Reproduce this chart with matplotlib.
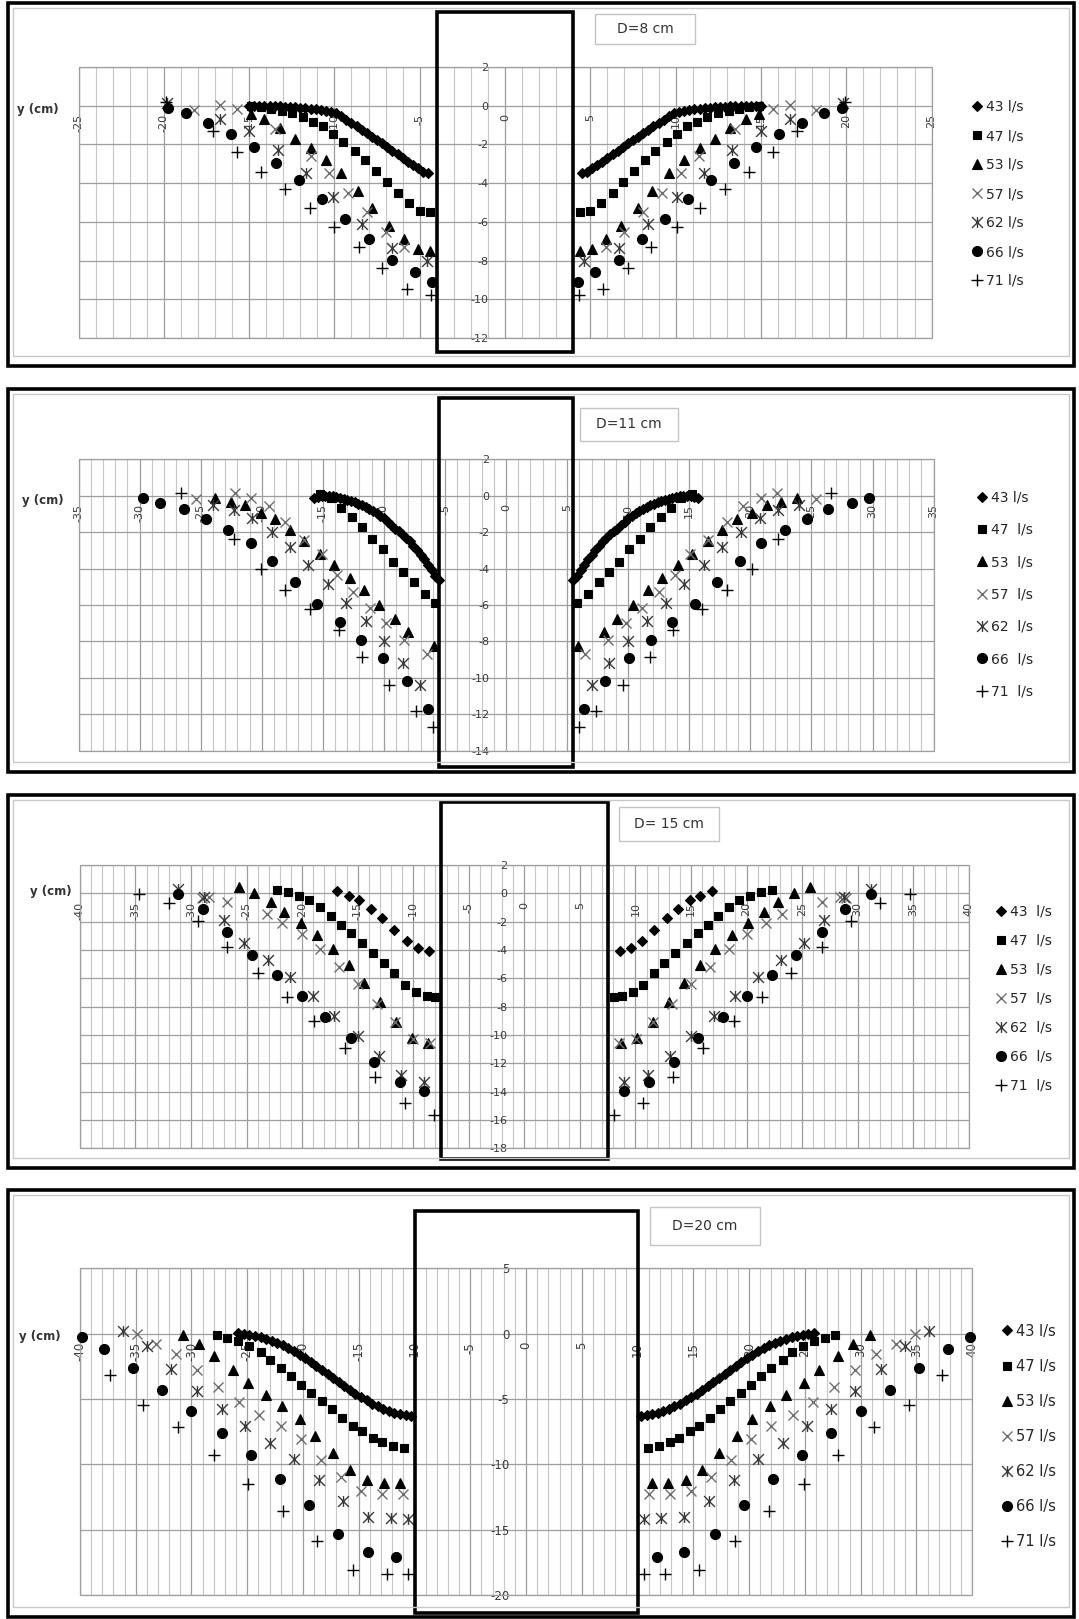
import numpy as np
import matplotlib
matplotlib.use('Agg')
import matplotlib.pyplot as plt
from matplotlib.patches import Rectangle
from matplotlib.path import Path
from matplotlib.ticker import MultipleLocator

plt.rcParams['font.family'] = 'DejaVu Sans'
plt.rcParams['axes.unicode_minus'] = False

W, H = 1079, 1619

# scour profiles, upstream half (x < 0); the downstream half is its mirror image
# D = 8 cm
d8_x43 = [-4.5, -4.8, -5.1, -5.4, -5.7, -6.0, -6.3, -6.6, -6.9, -7.2, -7.5, -7.8, -8.1, -8.4, -8.7, -9.0, -9.3, -9.6,
          -9.9, -10.2, -10.5, -10.8, -11.1, -11.4, -11.7, -12.0, -12.3, -12.6, -12.9, -13.2, -13.5, -13.8, -14.1, -14.4, -14.7, -15.0]
d8_y43 = [-3.5, -3.4, -3.2, -3.05, -2.9, -2.7, -2.5, -2.35, -2.15, -1.95, -1.75, -1.6, -1.4, -1.25, -1.05, -0.9, -0.75, -0.55,
          -0.4, -0.3, -0.25, -0.2, -0.17, -0.15, -0.12, -0.1, -0.08, -0.06, -0.05, -0.04, -0.03, -0.02, -0.01, 0.0, 0.0, 0.0]
d8_x47 = [-4.4, -5.0, -5.65, -6.3, -6.9, -7.55, -8.2, -8.8, -9.5, -10.1, -10.65, -11.25, -11.85, -12.5, -13.1, -13.7, -14.3, -14.9]
d8_y47 = [-5.5, -5.45, -5.05, -4.5, -3.95, -3.35, -2.8, -2.35, -1.9, -1.45, -1.07, -0.84, -0.6, -0.4, -0.25, -0.15, -0.08, 0.0]
d8_x53 = [-4.4, -5.1, -5.9, -6.8, -7.8, -8.6, -9.6, -10.5, -11.4, -12.3, -13.2, -14.1, -14.9]
d8_y53 = [-7.5, -7.4, -6.9, -6.2, -5.3, -4.4, -3.5, -2.8, -2.2, -1.7, -1.15, -0.67, -0.45]
d8_x57 = [-5.9, -7.0, -8.1, -9.2, -10.3, -11.35, -13.5, -15.7, -16.7, -18.25]
d8_y57 = [-7.3, -6.5, -5.5, -4.5, -3.5, -2.6, -1.2, -0.15, 0.05, -0.2]
d8_x62 = [-4.6, -6.65, -8.4, -10.1, -11.65, -13.3, -15.0, -16.7, -19.8]
d8_y62 = [-8.0, -7.35, -6.1, -4.7, -3.5, -2.3, -1.3, -0.67, 0.15]
d8_x66 = [-4.3, -5.3, -6.65, -8.0, -9.4, -10.75, -12.05, -13.4, -14.7, -16.05, -17.4, -18.7, -19.75]
d8_y66 = [-9.1, -8.6, -7.95, -6.9, -5.85, -4.8, -3.85, -2.95, -2.15, -1.45, -0.9, -0.4, -0.1]
d8_x71 = [-4.35, -5.75, -7.2, -8.55, -10.05, -11.45, -12.9, -14.3, -15.7, -17.1, -19.9]
d8_y71 = [-9.8, -9.45, -8.4, -7.3, -6.25, -5.3, -4.3, -3.4, -2.4, -1.3, 0.2]

# D = 11 cm
d11_x43 = [-5.5, -5.8, -6.1, -6.4, -6.7, -7.0, -7.3, -7.6, -7.9, -8.2, -8.5, -8.8, -9.1, -9.4, -9.7, -10.0, -10.3, -10.6,
           -10.9, -11.2, -11.5, -11.8, -12.1, -12.4, -12.7, -13.0, -13.3, -13.6, -13.9, -14.2, -14.5, -14.8, -15.1, -15.4, -15.7]
d11_y43 = [-4.65, -4.4, -4.1, -3.8, -3.5, -3.25, -3.0, -2.75, -2.5, -2.3, -2.1, -1.95, -1.8, -1.6, -1.45, -1.25, -1.1, -0.95,
           -0.83, -0.72, -0.62, -0.53, -0.45, -0.37, -0.3, -0.24, -0.18, -0.13, -0.08, -0.04, -0.01, 0.0, 0.0, -0.05, -0.1]
d11_x47 = [-5.8, -6.67, -7.57, -8.4, -9.27, -10.1, -10.95, -11.8, -12.65, -13.5, -14.35, -15.2]
d11_y47 = [-5.9, -5.4, -4.75, -4.2, -3.63, -2.95, -2.35, -1.7, -1.15, -0.7, -0.15, 0.1]
d11_x53 = [-5.9, -8.0, -9.1, -10.4, -11.6, -12.8, -14.1, -15.2, -16.5, -17.65, -18.9, -20.1, -21.4, -22.5, -23.8]
d11_y53 = [-8.25, -7.5, -6.75, -6.0, -5.2, -4.5, -3.8, -3.2, -2.5, -1.9, -1.3, -0.93, -0.5, -0.33, -0.1]
d11_x57 = [-6.5, -8.36, -9.8, -11.1, -12.5, -13.85, -15.05, -16.5, -18.1, -19.4, -20.9, -22.2, -25.4]
d11_y57 = [-8.7, -7.9, -7.0, -6.15, -5.3, -4.35, -3.2, -2.45, -1.43, -0.57, -0.1, 0.13, -0.2]
d11_x62 = [-7.06, -8.4, -10.0, -11.5, -13.1, -14.6, -16.2, -17.7, -19.2, -20.8, -22.3, -24.0]
d11_y62 = [-10.4, -9.2, -8.0, -6.9, -5.9, -4.85, -3.8, -2.8, -2.0, -1.25, -0.8, -0.5]
d11_x66 = [-6.35, -8.1, -10.05, -11.9, -13.6, -15.5, -17.3, -19.15, -20.9, -22.8, -24.6, -26.35, -28.3, -29.7]
d11_y66 = [-11.7, -10.2, -8.9, -7.9, -6.96, -5.97, -4.76, -3.6, -2.6, -1.9, -1.3, -0.75, -0.42, -0.15]
d11_x71 = [-6.0, -7.4, -9.55, -11.8, -13.7, -16.05, -18.1, -20.1, -22.3, -26.6]
d11_y71 = [-12.7, -11.8, -10.4, -8.85, -7.4, -6.2, -5.2, -4.0, -2.35, 0.13]

# D = 15 cm
d15_x43 = [-8.6, -9.6, -10.6, -11.7, -12.8, -13.8, -14.9, -15.8, -16.9]
d15_y43 = [-4.1, -3.85, -3.35, -2.6, -1.75, -1.1, -0.47, -0.2, 0.16]
d15_x47 = [-8.05, -8.8, -9.75, -10.7, -11.7, -12.6, -13.6, -14.6, -15.6, -16.5, -17.4, -18.4, -19.35, -20.3, -21.3, -22.3]
d15_y47 = [-7.35, -7.25, -6.95, -6.5, -5.65, -4.95, -4.2, -3.5, -2.8, -2.23, -1.6, -0.94, -0.47, -0.2, 0.1, 0.23]
d15_x53 = [-8.7, -10.1, -11.55, -13.0, -14.4, -15.8, -17.2, -18.7, -20.1, -21.6, -22.8, -24.3, -25.7]
d15_y53 = [-10.55, -10.2, -9.05, -7.7, -6.3, -5.05, -3.95, -2.95, -2.1, -1.3, -0.6, 0.0, 0.42]
d15_x57 = [-8.5, -10.06, -11.6, -13.3, -15.0, -16.7, -18.4, -20.0, -21.8, -23.2, -26.8, -28.4, -29.0]
d15_y57 = [-10.6, -10.25, -9.1, -7.8, -6.4, -5.2, -3.9, -2.87, -2.07, -1.46, -0.6, -0.24, -0.3]
d15_x62 = [-9.0, -11.1, -13.1, -15.0, -17.1, -19.0, -21.05, -23.1, -25.2, -27.0, -28.8, -31.2]
d15_y62 = [-13.3, -12.8, -11.5, -10.1, -8.65, -7.25, -5.9, -4.7, -3.5, -1.9, -0.28, 0.28]
d15_x66 = [-9.0, -11.2, -13.5, -15.6, -17.9, -20.0, -22.3, -24.5, -26.8, -28.9, -31.2]
d15_y66 = [-13.95, -13.3, -11.9, -10.2, -8.7, -7.25, -5.8, -4.35, -2.7, -1.13, -0.05]
d15_x71 = [-8.1, -10.7, -13.4, -16.1, -18.9, -21.4, -24.0, -26.8, -29.4, -32.0, -34.7]
d15_y71 = [-15.65, -14.8, -13.0, -10.9, -9.0, -7.3, -5.65, -3.76, -1.93, -0.7, -0.07]

# D = 20 cm
d20_x43 = [-10.3, -10.8, -11.3, -11.8, -12.3, -12.8, -13.3, -13.8, -14.3, -14.8, -15.3, -15.8, -16.3, -16.8, -17.3, -17.8,
           -18.3, -18.8, -19.3, -19.8, -20.3, -20.8, -21.3, -21.8, -22.3, -22.8, -23.3, -23.8, -24.3, -24.8, -25.3, -25.8]
d20_y43 = [-6.3, -6.25, -6.15, -6.05, -5.9, -5.75, -5.55, -5.35, -5.1, -4.85, -4.6, -4.3, -4.0, -3.7, -3.4, -3.1,
           -2.8, -2.5, -2.2, -1.9, -1.6, -1.35, -1.1, -0.9, -0.7, -0.55, -0.4, -0.28, -0.18, -0.1, -0.03, 0.05]
d20_x47 = [-10.9, -11.9, -12.9, -13.75, -14.7, -15.5, -16.5, -17.4, -18.3, -19.3, -20.2, -21.1, -22.0, -23.0, -23.8, -24.8,
           -25.8, -26.8, -27.7]
d20_y47 = [-8.75, -8.57, -8.3, -8.0, -7.47, -7.04, -6.45, -5.8, -5.18, -4.54, -3.9, -3.27, -2.63, -2.0, -1.43, -0.97,
           -0.54, -0.33, -0.08]
d20_x53 = [-11.3, -12.7, -14.3, -15.8, -17.3, -18.9, -20.3, -21.9, -23.3, -24.9, -26.3, -28.0, -29.3, -30.8]
d20_y53 = [-11.43, -11.4, -11.17, -10.4, -9.13, -7.86, -6.53, -5.56, -4.67, -3.78, -2.8, -1.73, -0.77, -0.08]
d20_x57 = [-11.0, -12.9, -14.8, -16.6, -18.4, -20.2, -22.0, -23.9, -25.7, -27.6, -29.5, -31.4, -33.2, -34.9]
d20_y57 = [-12.3, -12.3, -12.07, -11.0, -9.64, -8.06, -7.1, -6.2, -5.25, -4.08, -2.8, -1.53, -0.8, 0.0]
d20_x62 = [-10.6, -12.1, -14.2, -16.4, -18.6, -20.8, -23.0, -25.2, -27.3, -29.5, -31.8, -34.0, -36.1]
d20_y62 = [-14.2, -14.1, -14.0, -12.8, -11.2, -9.6, -8.37, -7.1, -5.77, -4.4, -2.7, -0.92, 0.18]
d20_x66 = [-11.7, -14.2, -16.9, -19.5, -22.1, -24.7, -27.3, -30.0, -32.6, -35.2, -37.8, -39.8]
d20_y66 = [-17.1, -16.7, -15.3, -13.1, -11.1, -9.26, -7.6, -5.94, -4.3, -2.63, -1.15, -0.26]
d20_x71 = [-10.6, -12.5, -15.5, -18.7, -21.8, -24.9, -28.0, -31.2, -34.3, -37.3]
d20_y71 = [-18.4, -18.4, -18.1, -15.9, -13.6, -11.5, -9.3, -7.14, -5.46, -3.14]

flows = ['43', '47', '53', '57', '62', '66', '71']
pier_d = [8, 11, 15, 20]

# Excel-style star: x with a vertical bar
star = Path([(0, -1), (0, 1), (-1, -1), (1, 1), (-1, 1), (1, -1)],
            [Path.MOVETO, Path.LINETO, Path.MOVETO, Path.LINETO, Path.MOVETO, Path.LINETO])

styles = [dict(marker='D', ms=4.6, color='k', mew=0.8),
          dict(marker='s', ms=6.2, color='k', mew=0.8),
          dict(marker='^', ms=7.8, color='k', mew=0.8),
          dict(marker='x', ms=7.4, color='#6e6e6e', mew=1.0),
          dict(marker=star, ms=7.8, color='#3a3a3a', mew=1.0),
          dict(marker='o', ms=7.2, color='k', mew=0.8),
          dict(marker='+', ms=8.6, color='k', mew=1.0)]


def fpos(x, y):
    return x / W, 1 - y / H


fig = plt.figure(figsize=(W / 100, H / 100), dpi=100)


def frame_box(x0, y0, x1, y1, **kw):
    fx, fy = fpos(x0, y1)
    r = Rectangle((fx, fy), (x1 - x0) / W, (y1 - y0) / H, transform=fig.transFigure, **kw)
    fig.patches.append(r)


def panel(frame, grid, xlim, ylim, ystep, half_w, pier_y, title, tbox, series, labels,
          leg_xy, leg_ls, leg_fs, ylab_xy, tick_fs=8):
    frame_box(*frame, fill=False, ec='k', lw=2.6, zorder=10)
    frame_box(frame[0] + 5, frame[1] + 5, frame[2] - 5, frame[3] - 10, fill=False, ec='#c8c8c8', lw=1.0)

    x0, y0, x1, y1 = grid
    ax = fig.add_axes([x0 / W, 1 - y1 / H, (x1 - x0) / W, (y1 - y0) / H])
    ax.set_xlim(xlim)
    ax.set_ylim(ylim)
    ax.patch.set_alpha(0)
    ax.xaxis.set_major_locator(MultipleLocator(5))
    ax.xaxis.set_minor_locator(MultipleLocator(1))
    ax.yaxis.set_major_locator(MultipleLocator(ystep))
    ax.grid(which='major', color='#9e9e9e', lw=0.9)
    ax.grid(which='minor', axis='x', color='#c6c6c6', lw=0.8)
    ax.set_axisbelow(True)
    for s in ax.spines.values():
        s.set_color('none')
    ax.spines['bottom'].set_position(('data', 0))
    ax.spines['left'].set_position(('data', 0))
    ax.tick_params(which='both', length=0)
    ax.tick_params(axis='x', labelrotation=90, pad=6, labelsize=tick_fs, labelcolor='#3a3a3a')
    ax.tick_params(axis='y', pad=12, labelsize=tick_fs, labelcolor='#3a3a3a')
    ax.add_patch(Rectangle((0, 0), 1, 1, transform=ax.transAxes, fill=False, ec='#9e9e9e', lw=0.9, clip_on=False))

    for (xs, ys), st, lab in zip(series, styles, labels):
        xs = np.asarray(xs)
        ys = np.asarray(ys)
        ax.plot(np.concatenate([xs, -xs]), np.concatenate([ys, ys]), ls='none', label=lab,
                clip_on=False, zorder=3, **st)

    # pier outline
    ax.add_patch(Rectangle((-half_w, pier_y[0]), 2 * half_w, pier_y[1] - pier_y[0], fill=False,
                           ec='k', lw=2.6, clip_on=False, zorder=6))

    frame_box(*tbox, fill=True, fc='white', ec='#c4c4c4', lw=1.0, zorder=4)
    tx, ty = fpos((tbox[0] + tbox[2]) / 2, (tbox[1] + tbox[3]) / 2)
    fig.text(tx, ty, title, ha='center', va='center', fontsize=10, color='#333333', zorder=5)

    yx, yy = fpos(*ylab_xy)
    fig.text(yx, yy, 'y (cm)', ha='left', va='center', fontsize=8.5, fontweight='bold', color='#333333')

    lx, ly = fpos(*leg_xy)
    ax.legend(loc='upper left', bbox_to_anchor=(lx, ly), bbox_transform=fig.transFigure,
              frameon=False, borderpad=0, borderaxespad=0, handlelength=0.8, handletextpad=0.25,
              labelspacing=leg_ls, numpoints=1, fontsize=leg_fs, labelcolor='#262626')
    return ax


panel((8, 3, 1074, 366), (78.5, 67, 931.6, 338), (-25, 25), (-12, 2), 2, pier_d[0] / 2, (-12.7, 4.84),
      'D=8 cm', (595, 14, 695, 44),
      [(d8_x43, d8_y43), (d8_x47, d8_y47), (d8_x53, d8_y53), (d8_x57, d8_y57),
       (d8_x62, d8_y62), (d8_x66, d8_y66), (d8_x71, d8_y71)],
      [f + ' l/s' for f in flows], (971.4, 100), 1.08, 10, (17, 109))

panel((8, 389, 1074, 772), (78.5, 459.3, 933.6, 750.7), (-35, 35), (-14, 2), 2, pier_d[1] / 2, (-14.9, 5.35),
      'D=11 cm', (579.6, 408.3, 678.4, 440.7),
      [(d11_x43, d11_y43), (d11_x47, d11_y47), (d11_x53, d11_y53), (d11_x57, d11_y57),
       (d11_x62, d11_y62), (d11_x66, d11_y66), (d11_x71, d11_y71)],
      [flows[0] + ' l/s'] + [f + '  l/s' for f in flows[1:]], (976.9, 490.5), 1.32, 10, (22, 500.7))

panel((8, 795, 1074, 1168), (79.9, 865, 968.7, 1148.3), (-40, 40), (-18, 2), 2, pier_d[2] / 2, (-18.77, 6.47),
      'D= 15 cm', (618.5, 807.3, 719, 840.7),
      [(d15_x43, d15_y43), (d15_x47, d15_y47), (d15_x53, d15_y53), (d15_x57, d15_y57),
       (d15_x62, d15_y62), (d15_x66, d15_y66), (d15_x71, d15_y71)],
      [f + '  l/s' for f in flows], (995.1, 904.5), 1.08, 10, (30, 891.7))

panel((8, 1190, 1074, 1617), (79.9, 1268.3, 972.2, 1595), (-40, 40), (-20, 5), 5, pier_d[3] / 2, (-21.4, 9.4),
      'D=20 cm', (650.2, 1206.7, 759.7, 1245),
      [(d20_x43, d20_y43), (d20_x47, d20_y47), (d20_x53, d20_y53), (d20_x57, d20_y57),
       (d20_x62, d20_y62), (d20_x66, d20_y66), (d20_x71, d20_y71)],
      [f + ' l/s' for f in flows], (1000.8, 1323.5), 1.38, 10.5, (19, 1336), tick_fs=8.5)

fig.savefig('out.png', dpi=100)
